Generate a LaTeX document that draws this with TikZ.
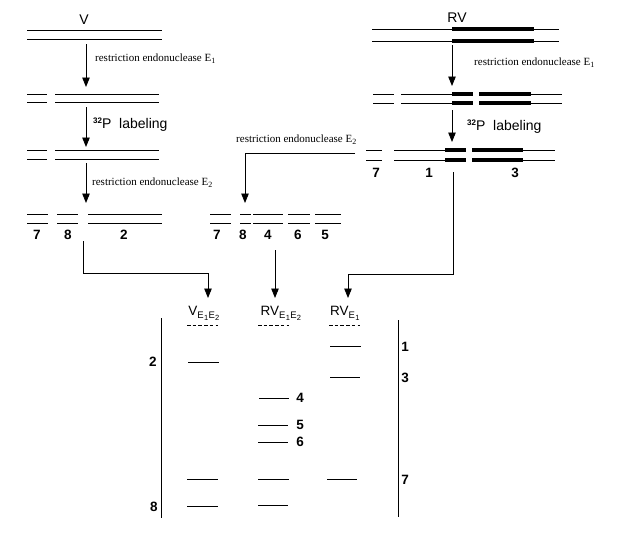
\documentclass[tikz,border=0pt]{standalone}
\usepackage{fontspec}
\setmainfont{Liberation Sans}
\newfontfamily\tnr{Liberation Serif}
\usetikzlibrary{arrows.meta}
\newcommand\serifsub[1]{\raisebox{-0.35ex}{\fontsize{8}{8}\selectfont #1}}
\newcommand\lanesub[1]{\raisebox{-0.5ex}{\fontsize{9.5}{10}\selectfont #1}}
\newcommand\lanesubsub[1]{\kern0.3pt\raisebox{-0.3ex}{\fontsize{7.5}{8}\selectfont #1}\kern0.3pt}
\newcommand\isotope{\raisebox{0.7ex}{\bfseries\fontsize{8}{8}\selectfont 32}}
\begin{document}
\begin{tikzpicture}[x=1pt,y=-1pt,
 dna/.style={line width=0.8pt},
 boldseg/.style={line width=3.3pt},
 band/.style={line width=0.9pt},
 arr/.style={line width=0.9pt,-{Triangle[width=7.5pt,length=9.5pt]}},
 conn/.style={line width=0.9pt},
 enz/.style={font=\tnr\fontsize{11}{12}\selectfont,anchor=west,inner sep=0pt},
 lab32/.style={font=\fontsize{14}{15}\selectfont,anchor=west,inner sep=0pt},
 num/.style={font=\bfseries\fontsize{13.5}{14}\selectfont,inner sep=0pt},
 title/.style={font=\fontsize{14}{15}\selectfont,inner sep=0pt},
 lanetitle/.style={font=\fontsize{13.5}{14}\selectfont,inner sep=0pt},
 lanedash/.style={line width=0.9pt,dash pattern=on 3.5pt off 2.2pt}]
\useasboundingbox (0,0) rectangle (626,538);

% ---------------- V column ----------------
\node[title] (Vt) at (84,20) {V};
\draw[dna] (27,30) -- (162,30) (27,39) -- (162,39);
\coordinate (va1) at (86,44); \coordinate (vb1) at (86,87);
\draw[arr] (va1) -- (vb1);
\node[enz] (ve1) at (95,59) {restriction endonuclease E\serifsub{1}};
\draw[dna] (27,94) -- (47,94) (27,102) -- (47,102) (55,94) -- (159,94) (55,102) -- (159,102);
\coordinate (va2) at (86,107); \coordinate (vb2) at (86,147);
\draw[arr] (va2) -- (vb2);
\node[lab32] (vp) at (93,125) {\isotope P\ \ labeling};
\draw[dna] (27,150) -- (47,150) (27,159) -- (47,159) (55,150) -- (159,150) (55,159) -- (159,159);
\coordinate (va3) at (86,163); \coordinate (vb3) at (86,203);
\draw[arr] (va3) -- (vb3);
\node[enz] (ve2) at (92,183) {restriction endonuclease E\serifsub{2}};
\draw[dna] (27,214) -- (48,214) (27,223) -- (48,223)
           (57,214) -- (78,214) (57,223) -- (78,223)
           (88,214) -- (162,214) (88,223) -- (162,223);
\node[num] (v7) at (37,235) {7};
\node[num] (v8) at (68,235) {8};
\node[num] (v2) at (124,235) {2};

% ---------------- middle (RV cut by E2) ----------------
\node[enz] (me2) at (236,140) {restriction endonuclease E\serifsub{2}};
\coordinate (mc1) at (355,153); \coordinate (mc2) at (245,153); \coordinate (mc3) at (245,203);
\draw[conn] (mc1) -- (mc2);
\draw[arr] (mc2) -- (mc3);
\draw[dna] (210,214) -- (231,214) (210,223) -- (231,223)
           (240,214) -- (251,214) (240,223) -- (251,223)
           (253,214) -- (283,214) (253,223) -- (283,223)
           (288,214) -- (310,214) (288,223) -- (310,223)
           (315,214) -- (341,214) (315,223) -- (341,223);
\node[num] (m7) at (217,235) {7};
\node[num] (m8) at (243,235) {8};
\node[num] (m4) at (268,235) {4};
\node[num] (m6) at (298,235) {6};
\node[num] (m5) at (325,235) {5};

% ---------------- RV column ----------------
\node[title] (RVt) at (457,18) {RV};
\draw[dna] (372,29) -- (559,29) (372,41) -- (559,41);
\draw[boldseg] (452,29) -- (534,29) (452,41) -- (534,41);
\coordinate (ra1) at (452,45); \coordinate (rb1) at (452,86);
\draw[arr] (ra1) -- (rb1);
\node[enz] (re1) at (474,63) {restriction endonuclease E\serifsub{1}};
\draw[dna] (373,94) -- (394,94) (373,103) -- (394,103)
           (401,94) -- (452,94) (401,103) -- (452,103)
           (531,94) -- (562,94) (531,103) -- (562,103);
\draw[boldseg] (452,94) -- (473,94) (452,103) -- (473,103)
               (479,94) -- (531,94) (479,103) -- (531,103);
\coordinate (ra2) at (452,110); \coordinate (rb2) at (452,142);
\draw[arr] (ra2) -- (rb2);
\node[lab32] (rp) at (467,127) {\isotope P\ \ labeling};
\draw[dna] (366,150) -- (382,150) (366,160) -- (382,160)
           (394,150) -- (445,150) (394,160) -- (445,160)
           (523,150) -- (555,150) (523,160) -- (555,160);
\draw[boldseg] (445,150) -- (466,150) (445,160) -- (466,160)
               (472,150) -- (523,150) (472,160) -- (523,160);
\node[num] (r7) at (376,173) {7};
\node[num] (r1) at (429,173) {1};
\node[num] (r3) at (515,173) {3};

% ---------------- connectors to gel ----------------
\coordinate (lc1) at (83,241); \coordinate (lc2) at (83,273);
\coordinate (lc3) at (208,273); \coordinate (lc4) at (208,298);
\draw[conn] (lc1) -- (lc2) -- (lc3);
\draw[arr] (lc3) -- (lc4);
\coordinate (cc1) at (275,250); \coordinate (cc2) at (275,298);
\draw[arr] (cc1) -- (cc2);
\coordinate (rc1) at (453,172); \coordinate (rc2) at (453,274);
\coordinate (rc3) at (348,274); \coordinate (rc4) at (348,298);
\draw[conn] (rc1) -- (rc2) -- (rc3);
\draw[arr] (rc3) -- (rc4);

% ---------------- gel ----------------
\node[lanetitle] (gV) at (204,313) {V\lanesub{E\lanesubsub{1}E\lanesubsub{2}}};
\node[lanetitle] (gRV12) at (281,313) {RV\lanesub{E\lanesubsub{1}E\lanesubsub{2}}};
\node[lanetitle] (gRV1) at (345,313) {RV\lanesub{E\lanesubsub{1}}};
\draw[lanedash] (187,325) -- (218,325);
\draw[lanedash] (258,325) -- (289,325);
\draw[lanedash] (329,325) -- (360,325);

\draw[conn] (161,318) -- (161,518);
\draw[conn] (398,320) -- (398,517);

% V lane
\draw[band] (188,362) -- (219,362) (187,479) -- (218,479) (187,506) -- (218,506);
% RV E1E2 lane
\draw[band] (259,398) -- (289,398) (258,425) -- (288,425) (258,442) -- (288,442)
            (258,479) -- (289,479) (258,505) -- (288,505);
% RV E1 lane
\draw[band] (330,346) -- (361,346) (330,377) -- (360,377) (327,479) -- (357,479);

\node[num] (g2) at (153,362) {2};
\node[num] (g8) at (154,507) {8};
\node[num] (g4) at (300,398) {4};
\node[num] (g5) at (300,425) {5};
\node[num] (g6) at (300,442) {6};
\node[num] (g1) at (405,347) {1};
\node[num] (g3) at (405,378) {3};
\node[num] (g7) at (405,480) {7};
\end{tikzpicture}
\end{document}
